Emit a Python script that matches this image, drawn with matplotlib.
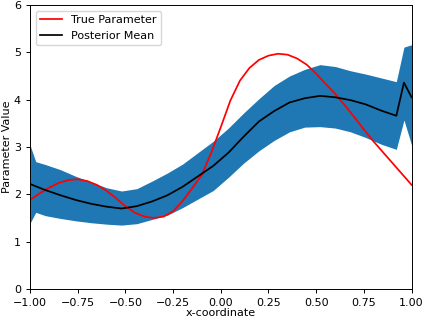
import matplotlib
matplotlib.use("Agg")
import matplotlib.pyplot as plt
import numpy as np

plt.rcParams["font.size"] = 8.0
plt.rcParams["axes.linewidth"] = 0.7
plt.rcParams["xtick.major.width"] = 0.7
plt.rcParams["ytick.major.width"] = 0.7
plt.rcParams["xtick.major.size"] = 3
plt.rcParams["ytick.major.size"] = 3

# posterior grid
x_post = [-1.00, -0.97, -0.92, -0.84, -0.76, -0.68, -0.60, -0.52, -0.44, -0.36,
          -0.28, -0.20, -0.12, -0.04, 0.04, 0.12, 0.20, 0.28, 0.36, 0.44,
          0.52, 0.60, 0.68, 0.76, 0.84, 0.92, 0.96, 1.00]
post_mean = [2.22, 2.17, 2.09, 1.98, 1.88, 1.80, 1.74, 1.70, 1.75, 1.85,
             1.98, 2.16, 2.38, 2.60, 2.88, 3.22, 3.54, 3.76, 3.94, 4.03,
             4.08, 4.05, 3.99, 3.90, 3.77, 3.66, 4.36, 4.05]
post_lower = [1.39, 1.62, 1.55, 1.49, 1.44, 1.40, 1.37, 1.35, 1.38, 1.47,
              1.56, 1.72, 1.90, 2.08, 2.36, 2.66, 2.92, 3.14, 3.32, 3.42,
              3.43, 3.40, 3.32, 3.20, 3.06, 2.95, 3.57, 3.04]
post_upper = [3.04, 2.69, 2.63, 2.52, 2.38, 2.26, 2.14, 2.07, 2.12, 2.28,
              2.45, 2.64, 2.88, 3.12, 3.40, 3.72, 4.02, 4.30, 4.50, 4.64,
              4.74, 4.70, 4.61, 4.54, 4.46, 4.38, 5.11, 5.16]

# true parameter
x_true = [-1.00, -0.95, -0.90, -0.85, -0.80, -0.75, -0.70, -0.65, -0.60, -0.55,
          -0.50, -0.45, -0.40, -0.35, -0.30, -0.25, -0.20, -0.15, -0.10, -0.05,
          0.00, 0.05, 0.10, 0.15, 0.20, 0.25, 0.30, 0.35, 0.40, 0.45,
          0.50, 0.55, 0.60, 0.65, 0.70, 0.75, 0.80, 0.85, 0.90, 0.95, 1.00]
true_param = [1.88, 2.02, 2.14, 2.24, 2.30, 2.32, 2.28, 2.20, 2.08, 1.92,
              1.75, 1.61, 1.53, 1.50, 1.53, 1.64, 1.86, 2.13, 2.41, 2.88,
              3.42, 3.98, 4.40, 4.67, 4.84, 4.93, 4.97, 4.95, 4.87, 4.74,
              4.55, 4.33, 4.12, 3.88, 3.63, 3.37, 3.12, 2.89, 2.66, 2.43, 2.20]

fig = plt.figure(figsize=(4.23, 3.22), dpi=100)
ax = fig.add_axes([0.071, 0.1025, 0.902, 0.882])

ax.fill_between(x_post, post_lower, post_upper, color="#1f77b4", linewidth=0)
ax.plot(x_true, true_param, color="r", lw=1.25, label="True Parameter")
ax.plot(x_post, post_mean, color="k", lw=1.25, label="Posterior Mean")

ax.set_xlim(-1, 1)
ax.set_ylim(0, 6)
ax.set_xlabel("x-coordinate", labelpad=0)
ax.set_ylabel("Parameter Value", labelpad=1)
ax.legend(loc="upper left")

fig.savefig("out.png", dpi=100)
